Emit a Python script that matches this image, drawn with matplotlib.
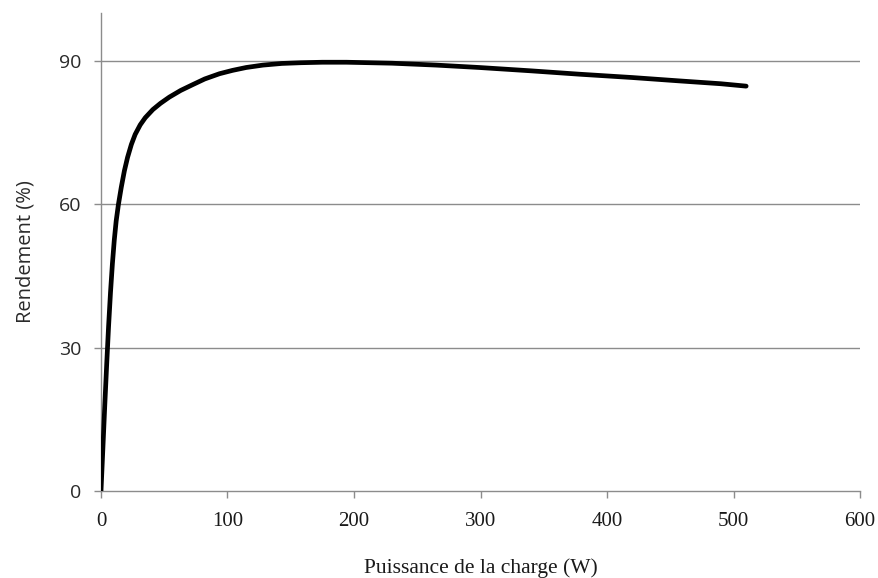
import matplotlib
matplotlib.use("Agg")
import matplotlib.pyplot as plt

# Data
puissance = [0, 1.5, 3, 4.5, 6, 7.5, 9, 10.5, 12, 13.8, 16, 18.5, 21, 24, 27, 31, 35,
             41, 47, 54, 63, 72.4, 82, 93.7, 104, 114.8, 128, 143,
             158, 175, 194, 212, 230, 265, 299, 340, 378, 420, 457, 490, 510]
rendement = [0, 9, 18, 26.5, 34.5, 41.5, 47.5, 52.5, 56.5, 60, 63.5, 67, 69.8, 72.5, 74.6, 76.6, 78.1,
             79.8, 81.1, 82.4, 83.8, 85.0, 86.2, 87.3, 88.0, 88.6, 89.1, 89.45,
             89.6, 89.7, 89.7, 89.6, 89.5, 89.1, 88.6, 87.9, 87.2, 86.5, 85.8, 85.2, 84.7]

xticks = [0, 100, 200, 300, 400, 500, 600]
yticks = [0, 30, 60, 90]

fig = plt.figure(figsize=(8.79, 5.78), dpi=100)
ax = fig.add_axes([0.1149, 0.1505, 0.8635, 0.827])

grid_c = "#8c8c8c"
for y in yticks[1:]:
    ax.axhline(y, color=grid_c, lw=1.0, zorder=1)

ax.plot(puissance, rendement, color="black", lw=3.4, solid_capstyle="round",
        solid_joinstyle="round", zorder=3)

ax.set_xlim(0, 600)
ax.set_ylim(0, 100)
ax.set_xticks(xticks)
ax.set_yticks(yticks)

for s in ["top", "right"]:
    ax.spines[s].set_visible(False)
for s in ["left", "bottom"]:
    ax.spines[s].set_color(grid_c)
    ax.spines[s].set_linewidth(1.0)

ax.tick_params(axis="both", direction="out", length=5, width=1.0, color=grid_c)
ax.tick_params(axis="x", pad=10)
ax.tick_params(axis="y", pad=9)

for lab in ax.get_xticklabels():
    lab.set_fontfamily("Liberation Serif")
    lab.set_fontsize(15)
    lab.set_color("#1a1a1a")
for lab in ax.get_yticklabels():
    lab.set_fontfamily("Open Sans")
    lab.set_fontsize(14)
    lab.set_color("#2a2a2a")

ax.set_xlabel("Puissance de la charge (W)", fontfamily="Liberation Serif", fontsize=15.5,
              labelpad=20, color="#1a1a1a")
ax.set_ylabel("Rendement (%)", fontfamily="Open Sans", fontsize=14.5, labelpad=17,
              color="#2a2a2a")

fig.savefig("out.png", dpi=100)
